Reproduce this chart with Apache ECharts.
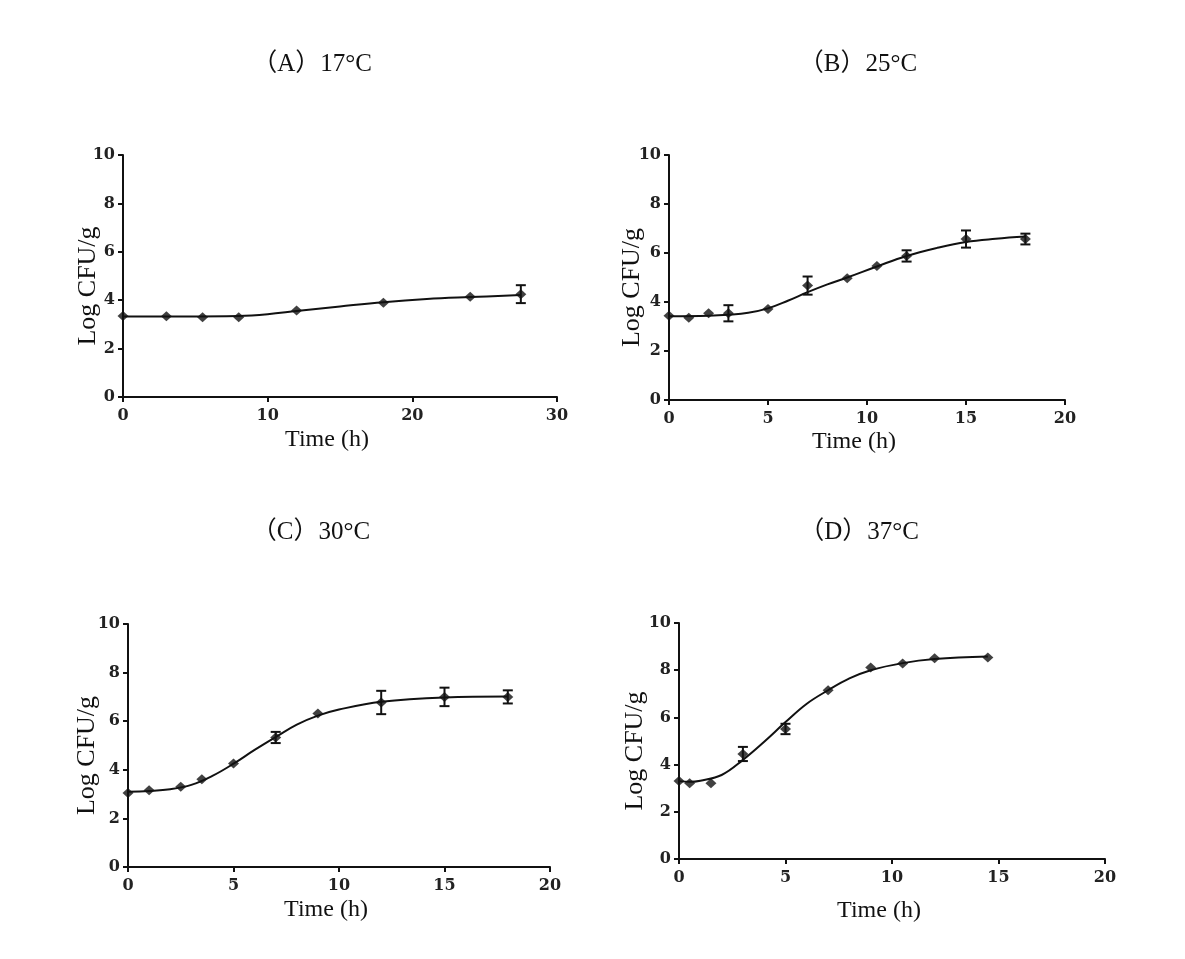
<!DOCTYPE html>
<html>
<head>
<meta charset="utf-8">
<script src="https://cdn.jsdelivr.net/npm/echarts@6/dist/echarts.min.js"></script>
<style>html,body{margin:0;padding:0;background:#fff;}#c{width:1185px;height:959px;}</style>
</head>
<body>
<div id="c"></div>
<script>
// ---- Data ----
const panelTitles = ['（A）17°C', '（B）25°C', '（C）30°C', '（D）37°C'];
const xName = 'Time (h)';
const yName = 'Log CFU/g';
const xMaxes = [30, 20, 20, 20];
const xIntervals = [10, 5, 5, 5];

// Panel A (17°C)
const timeA = [0, 3, 5.5, 8, 12, 18, 24, 27.5];
const meanA = [3.35, 3.34, 3.30, 3.30, 3.57, 3.89, 4.14, 4.25];
const errA  = [0, 0, 0, 0, 0, 0, 0, 0.37];
const fitTimeA = [0, 4, 8, 10, 12, 15, 18, 21, 24, 27.5];
const fitA     = [3.33, 3.33, 3.35, 3.42, 3.55, 3.74, 3.92, 4.05, 4.13, 4.21];

// Panel B (25°C)
const timeB = [0, 1, 2, 3, 5, 7, 9, 10.5, 12, 15, 18];
const meanB = [3.44, 3.36, 3.54, 3.54, 3.71, 4.67, 4.97, 5.47, 5.88, 6.57, 6.57];
const errB  = [0, 0, 0, 0.33, 0, 0.37, 0, 0, 0.23, 0.35, 0.22];
const fitTimeB = [0, 2, 3, 4, 5, 6, 7, 8, 9, 10.5, 12, 13.5, 15, 16.5, 18];
const fitB     = [3.42, 3.44, 3.48, 3.56, 3.74, 4.05, 4.40, 4.72, 5.00, 5.45, 5.88, 6.20, 6.45, 6.58, 6.67];

// Panel C (30°C)
const timeC = [0, 1, 2.5, 3.5, 5, 7, 9, 12, 15, 18];
const meanC = [3.05, 3.16, 3.30, 3.61, 4.26, 5.33, 6.32, 6.77, 7.00, 7.00];
const errC  = [0, 0, 0, 0, 0, 0.23, 0, 0.48, 0.38, 0.27];
const fitTimeC = [0, 1, 2, 3, 4, 5, 6, 7, 8, 9, 10, 12, 15, 18];
const fitC     = [3.10, 3.13, 3.20, 3.38, 3.75, 4.25, 4.82, 5.35, 5.86, 6.23, 6.48, 6.80, 6.98, 7.02];

// Panel D (37°C)
const timeD = [0, 0.5, 1.5, 3, 5, 7, 9, 10.5, 12, 14.5];
const meanD = [3.31, 3.21, 3.21, 4.45, 5.51, 7.15, 8.11, 8.28, 8.51, 8.54];
const errD  = [0, 0, 0, 0.30, 0.22, 0, 0, 0, 0, 0];
const fitTimeD = [0, 0.5, 1, 2, 3, 4, 5, 6, 7, 8, 9, 10.5, 12, 14.5];
const fitD     = [3.30, 3.27, 3.32, 3.56, 4.20, 4.97, 5.80, 6.58, 7.15, 7.65, 8.00, 8.30, 8.47, 8.58];

// ---- Layout ----
const grids = [
  {left: 123, top: 155, width: 434, height: 242},
  {left: 669, top: 155, width: 396, height: 245},
  {left: 128, top: 624, width: 422, height: 243},
  {left: 679, top: 623, width: 426, height: 236}
];
const titlePos = [[307, 47], [853, 47], [306, 515], [854, 515]];
const xNameGaps = [31, 30, 31, 40];
const yNameGaps = [22, 24, 28, 31];

const panels = [
  {t: timeA, m: meanA, e: errA, ft: fitTimeA, f: fitA},
  {t: timeB, m: meanB, e: errB, ft: fitTimeB, f: fitB},
  {t: timeC, m: meanC, e: errC, ft: fitTimeC, f: fitC},
  {t: timeD, m: meanD, e: errD, ft: fitTimeD, f: fitD}
];

const INK = '#111';
const serif = '"Liberation Serif", "Noto Sans CJK SC", serif';
const tickFont = '"DejaVu Serif", serif';

function errItem(params, api) {
  const x = api.value(0), lo = api.value(1), hi = api.value(2);
  const top = api.coord([x, hi]);
  const bot = api.coord([x, lo]);
  const w = 5;
  const st = {stroke: INK, lineWidth: 2};
  return {
    type: 'group',
    children: [
      {type: 'line', shape: {x1: top[0], y1: top[1], x2: bot[0], y2: bot[1]}, style: st},
      {type: 'line', shape: {x1: top[0] - w, y1: top[1], x2: top[0] + w, y2: top[1]}, style: st},
      {type: 'line', shape: {x1: bot[0] - w, y1: bot[1], x2: bot[0] + w, y2: bot[1]}, style: st}
    ]
  };
}

const option = {
  backgroundColor: '#fff',
  animation: false,
  title: panelTitles.map((t, i) => ({
    text: t,
    left: titlePos[i][0],
    top: titlePos[i][1],
    textAlign: 'center',
    textStyle: {fontFamily: serif, fontSize: 25, fontWeight: 'normal', color: INK}
  })),
  grid: grids,
  xAxis: grids.map((g, i) => ({
    type: 'value', gridIndex: i, min: 0, max: xMaxes[i], interval: xIntervals[i],
    name: xName, nameLocation: 'middle', nameGap: xNameGaps[i],
    nameMoveOverlap: false,
    nameTextStyle: {fontFamily: serif, fontSize: 24, color: INK, padding: [0, 26, 0, 0]},
    axisLine: {show: true, onZero: false, lineStyle: {color: INK, width: 2}},
    axisTick: {show: true, inside: false, length: 5, lineStyle: {color: INK, width: 2}},
    axisLabel: {margin: 11, fontFamily: tickFont, fontWeight: 'bold', fontSize: 16, color: '#222'},
    splitLine: {show: false}
  })),
  yAxis: grids.map((g, i) => ({
    type: 'value', gridIndex: i, min: 0, max: 10, interval: 2,
    name: yName, nameLocation: 'middle', nameGap: yNameGaps[i],
    nameMoveOverlap: false,
    nameTextStyle: {fontFamily: serif, fontSize: 26, color: INK, padding: [0, 20, 0, 0]},
    axisLine: {show: true, onZero: false, lineStyle: {color: INK, width: 2}},
    axisTick: {show: true, inside: false, length: 5, lineStyle: {color: INK, width: 2}},
    axisLabel: {margin: 8, fontFamily: tickFont, fontWeight: 'bold', fontSize: 16, color: '#222'},
    splitLine: {show: false}
  })),
  series: []
};

panels.forEach((p, i) => {
  option.series.push({
    type: 'line', xAxisIndex: i, yAxisIndex: i,
    data: p.ft.map((x, k) => [x, p.f[k]]),
    smooth: 0.4, showSymbol: false, symbol: 'none',
    lineStyle: {color: INK, width: 2}, z: 2
  });
  option.series.push({
    type: 'custom', xAxisIndex: i, yAxisIndex: i,
    renderItem: errItem,
    encode: {x: 0, y: [1, 2]},
    data: p.t.map((x, k) => [x, p.m[k] - p.e[k], p.m[k] + p.e[k]]).filter((d, k) => p.e[k] > 0),
    z: 3
  });
  option.series.push({
    type: 'scatter', xAxisIndex: i, yAxisIndex: i,
    data: p.t.map((x, k) => [x, p.m[k]]),
    symbol: 'diamond', symbolSize: [11, 10],
    itemStyle: {color: INK}, z: 4
  });
});

const chart = echarts.init(document.getElementById('c'), null, {renderer: 'canvas'});
chart.setOption(option);
</script>
</body>
</html>
